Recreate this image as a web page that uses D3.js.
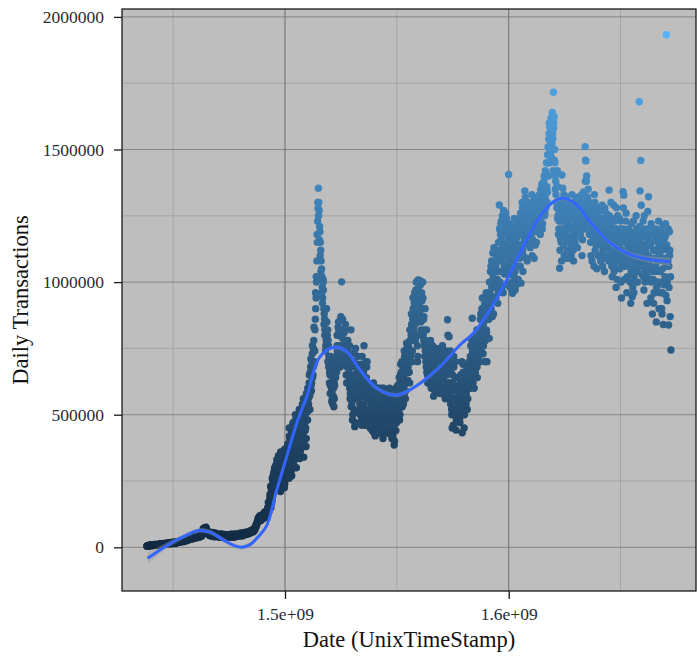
<!DOCTYPE html>
<html>
<head>
<meta charset="utf-8">
<script src="https://cdn.jsdelivr.net/npm/d3@7"></script>
<style>
  body { margin: 0; background: #ffffff; }
  svg text { font-family: "Liberation Serif", "Times New Roman", serif; }
</style>
</head>
<body>
<svg id="chart" width="697" height="658"></svg>
<script>
// Daily Ethereum transactions (thousands), read every 4 days from 2015-07-30
const startStamp = 1438214400;
const stepSeconds = 4 * 86400;
const dailyTxThousands = [
  4,6,5,8,7,9,6,8,10,7,9,11,8,
  10,8,12,9,11,13,10,12,9,14,11,13,12,
  13,15,12,16,14,17,13,18,15,16,19,14,17,
  18,21,19,23,20,25,22,24,21,27,23,26,28,
  27,31,29,34,30,33,36,32,38,35,37,40,36,
  39,42,38,44,41,47,43,62,70,66,74,68,71,
  58,52,47,55,44,50,42,53,46,40,49,44,51,
  45,41,48,38,46,43,50,40,47,44,39,46,42,
  44,40,47,42,38,45,41,49,43,39,46,42,48,
  45,50,43,48,52,46,44,51,47,55,49,53,50,
  54,58,52,60,56,63,59,66,62,70,75,82,90,
  95,110,104,118,100,113,122,108,126,115,130,121,112,
  128,140,135,160,185,220,175,250,205,290,240,310,265,
  300,230,325,275,210,315,260,340,290,225,355,300,270,
  320,380,260,410,350,290,440,375,310,470,400,345,490,
  420,360,480,335,455,510,390,470,340,530,440,380,560,
  480,560,620,520,680,590,730,650,780,700,860,940,1080,
  1230,1354,1270,1190,1120,1050,980,1010,900,860,820,780,850,
  820,760,700,650,720,600,560,640,530,610,680,720,760,
  800,850,700,760,870,1001,820,740,690,780,840,650,720,
  780,700,640,560,820,610,480,690,520,455,750,600,660,
  720,650,580,500,690,460,610,540,760,590,480,640,700,
  620,560,500,450,590,530,470,610,430,550,500,580,520,
  540,600,480,560,430,520,590,470,510,560,440,500,570,
  560,500,600,450,530,410,580,480,386,520,600,470,550,
  520,600,480,650,560,700,620,540,740,660,590,770,700,
  680,750,620,720,800,700,860,780,920,840,970,890,760,
  1008,950,880,990,820,930,1000,860,760,900,700,820,650,
  760,700,640,780,600,720,680,570,740,650,710,620,690,
  700,640,600,750,660,580,720,620,690,560,740,650,858,
  700,794,620,540,680,450,590,720,500,640,442,560,610,
  520,600,470,650,560,432,690,580,500,620,540,680,600,
  640,700,600,760,680,864,620,730,790,660,720,820,700,
  760,820,700,880,790,940,730,850,910,780,960,700,880,
  900,788,1000,950,1080,870,1020,1130,940,1060,990,1100,920,
  1150,1291,1000,1220,1080,1250,960,1180,1030,1260,1120,990,1200,
  1406,1100,980,1180,1050,958,1150,1020,1210,1090,990,1170,1060,
  1120,1240,1060,996,1180,1280,1100,1210,1344,1150,1250,1080,1200,
  1180,1290,1130,1240,1330,1160,1270,1090,1220,1310,1150,1260,1200,
  1250,1330,1180,1290,1370,1220,1310,1400,1260,1350,1450,1300,1510,
  1540,1586,1480,1620,1520,1560,1716,1624,1450,1380,1300,1420,1250,
  1200,1052,1310,1150,1404,1354,1230,1100,1280,1180,1320,1120,1250,
  1300,1150,1240,1100,1330,1200,1080,1270,1160,1310,1220,1130,1280,
  1250,1320,1180,1290,1100,1230,1340,1200,1511,1457,1400,1280,1350,
  1240,1300,1150,1210,1080,1270,1180,1330,1120,1220,1050,1260,1190,
  1150,1240,1080,1190,1290,1120,1210,1040,1170,1260,1100,1200,1130,
  1347,1180,1090,1240,1020,1150,1290,1060,1200,980,1130,1250,1100,
  1180,1050,1230,940,1120,1341,1328,1010,1170,1260,960,1090,1200,
  1130,1000,920,1220,945,1080,960,1160,1040,1250,1110,1000,1190,
  1680,1344,1459,1190,1080,1230,970,1140,1040,1170,920,1266,1322,
  1200,1060,940,1150,880,1010,1180,960,1090,850,1120,1000,1230,
  1100,960,1190,900,1050,840,1160,1000,1220,1933,930,1080,838,
  1190,870,744
];
// Readings taken two days after each of the above (thousands)
const offsetSeconds = 2 * 86400;
const dailyTxOffsetThousands = [
  5,7,4,6,9,8,7,10,9,8,11,9,10,
  9,11,10,13,12,10,14,11,13,12,15,13,14,
  15,13,17,14,16,18,15,17,19,16,18,20,16,
  20,19,22,21,24,22,26,23,25,28,24,27,25,
  29,33,28,32,35,31,34,37,33,39,36,38,41,
  40,37,43,40,45,42,48,56,66,72,64,76,63,
  55,60,49,45,53,48,56,43,51,47,54,41,48,
  47,43,39,49,44,41,47,37,45,42,48,40,45,
  41,46,39,44,49,40,43,47,38,44,50,41,45,
  47,42,49,45,54,48,43,50,46,52,57,48,52,
  56,51,57,62,55,61,65,58,68,64,72,78,86,
  102,98,114,107,120,104,116,110,124,133,118,127,140,
  150,132,170,200,150,230,195,270,215,300,255,285,320,
  240,310,285,220,335,250,300,270,345,240,320,285,375,
  360,300,420,335,395,270,460,330,420,365,480,300,430,
  380,500,440,360,520,410,470,560,400,500,450,580,510,
  520,600,570,660,610,700,640,750,690,820,900,1000,1150,
  1278,1300,1210,1150,1080,1020,940,970,880,820,760,900,800,
  780,720,660,610,690,580,540,600,560,650,700,660,740,
  830,760,800,720,860,790,700,760,810,700,780,620,750,
  740,660,600,700,530,650,500,580,730,470,640,560,690,
  680,600,540,650,480,720,570,500,630,460,560,680,610,
  580,520,470,540,610,440,560,490,590,420,520,470,600,
  500,560,450,530,600,480,410,550,490,580,460,520,430,
  520,460,580,430,510,560,440,500,400,570,490,530,610,
  560,640,500,690,590,530,670,610,720,560,680,750,630,
  720,660,780,700,840,740,900,820,960,880,1000,800,720,
  980,920,1005,850,960,900,800,870,720,780,680,750,620,
  720,660,740,610,690,760,640,720,590,680,750,610,700,
  660,720,580,690,620,760,640,700,600,680,720,610,800,
  660,560,740,600,500,650,460,610,560,700,480,520,580,
  560,480,620,540,700,500,590,450,640,560,600,520,660,
  600,680,720,640,780,660,700,600,760,690,740,640,780,
  720,800,860,740,900,820,760,880,700,940,810,860,920,
  860,960,1040,900,1000,1110,880,980,1060,940,1120,1010,960,
  1100,1040,1180,1230,980,1140,1270,1060,1200,1110,1240,1040,1160,
  1130,1220,1030,1120,1000,1190,1080,1240,970,1140,1060,1200,1010,
  1180,1090,1260,1140,1300,1040,1230,1160,1320,1090,1200,1280,1140,
  1240,1140,1300,1200,1100,1280,1210,1320,1140,1250,1190,1300,1230,
  1290,1210,1350,1260,1200,1320,1380,1250,1420,1300,1360,1480,1400,
  1600,1500,1560,1470,1640,1420,1600,1500,1350,1410,1280,1360,1180,
  1260,1120,1230,1080,1290,1180,1330,1150,1240,1090,1210,1300,1170,
  1230,1090,1280,1170,1250,1120,1300,1210,1140,1260,1180,1320,1200,
  1180,1280,1220,1330,1160,1260,1300,1240,1460,1380,1320,1230,1290,
  1180,1270,1100,1290,1150,1230,1060,1300,1200,1140,1280,1100,1240,
  1220,1100,1270,1160,1060,1230,1140,1280,1090,1200,1150,1240,1080,
  1250,1120,1300,1060,1200,1110,1040,1230,1150,1280,1010,1190,1080,
  1240,1120,1000,1190,1080,1280,1150,1060,1230,1110,1020,1180,1140,
  1080,1190,1040,1150,980,1230,1060,1130,1000,1200,1070,1160,1120,
  1210,1110,1290,1030,1180,1060,1250,1000,1200,1100,1020,1190,1080,
  1150,1010,1220,1090,1180,920,1120,1040,1200,980,1080,1160,900,
  1180,1040,1120,880,1210,990,1090,1170,950,1140,1060,1200,980,
  1120,1020
];
// From mid-2017 on: readings one day after the main series, starting at its 157th reading (thousands)
const laterStartIndex = 156;
const laterOffsetSeconds = 86400;
const dailyTxLaterThousands = [
  140,170,150,190,230,165,260,210,280,235,300,250,330,
  270,345,240,300,360,255,330,280,310,370,260,340,300,
  390,330,450,380,300,430,350,470,390,330,500,420,370,
  460,400,520,440,370,490,540,420,500,470,560,410,540,
  600,540,650,580,710,620,760,680,830,740,960,1020,1180,
  1300,1250,1160,1100,1040,960,920,1000,840,800,740,820,780,
  700,680,620,580,660,550,600,570,620,700,640,700,800,
  760,820,740,680,800,720,860,760,700,820,760,700,680,
  700,620,760,580,680,540,630,700,560,510,620,680,580,
  640,560,620,520,600,680,500,660,580,520,700,560,620,
  560,480,600,520,460,580,510,620,480,540,450,560,490,
  470,540,510,580,460,550,500,600,450,530,480,540,500,
  480,540,430,560,470,500,420,550,460,510,440,580,500,
  600,520,620,560,660,590,700,640,580,700,620,720,660,
  760,700,820,740,880,800,940,860,900,780,940,860,700,
  940,880,960,800,900,860,940,780,820,740,720,660,720,
  680,740,620,700,660,620,720,660,700,640,680,740,640,
  620,680,720,640,700,620,660,740,580,700,620,680,720,
  620,700,580,660,520,620,560,680,520,600,500,640,540,
  600,560,640,520,600,560,660,520,580,640,580,620,560,
  680,620,660,700,620,740,660,720,680,700,760,680,740,
  800,740,820,860,780,900,840,800,920,860,820,900,960,
  940,1000,920,1060,980,1040,940,1080,1000,1060,980,1040,1100,
  1080,1200,1120,1160,1040,1200,1100,1220,1140,1180,1060,1220,1120,
  1080,1160,1100,1200,1060,1140,1120,1180,1040,1160,1100,1220,1140,
  1200,1140,1220,1180,1260,1120,1200,1240,1160,1280,1180,1240,1300,
  1200,1260,1220,1180,1280,1240,1200,1300,1260,1220,1280,1240,1290,
  1270,1300,1240,1320,1280,1340,1300,1360,1320,1280,1400,1340,1450,
  1560,1450,1520,1600,1500,1540,1580,1460,1400,1330,1360,1240,1300,
  1230,1300,1160,1260,1200,1280,1140,1240,1200,1300,1160,1260,1220,
  1260,1200,1300,1140,1240,1280,1180,1240,1300,1200,1260,1180,1240,
  1220,1260,1300,1200,1280,1240,1220,1300,1380,1300,1260,1320,1240,
  1220,1180,1260,1200,1240,1160,1260,1220,1180,1250,1160,1220,1200,
  1180,1200,1140,1240,1180,1150,1220,1160,1240,1140,1200,1180,1160,
  1200,1160,1220,1120,1180,1080,1160,1200,1100,1200,1080,1160,1140,
  1140,1200,1080,1160,1060,1200,1100,1180,1080,1160,1100,1140,1060,
  1160,1060,1120,1000,1180,1100,1020,1160,1080,1140,1040,1180,1100,
  1160,1060,1200,1100,1140,1020,1180,1080,1120,1060,1160,1100,1140,
  1080,1140,1000,1180,1040,1120,960,1160,1060,1120,1000,1080,1140,
  1040,1160,1000,1120,960,1080,1140,1020,1180,1060,1000,1120,1060,
  1100
];

// Fitted smooth trend: timestamps (millions of seconds), fit and standard-error half width (thousands)
const smoothStampM = [1438.62,1444.12,1450.07,1456.06,1461.24,1466.47,1472.42,1476.89,1480.64,1484.35,
  1488.06,1491.82,1496.29,1500.76,1505.23,1509.70,1515.65,1522.35,1527.58,1533.53,1540.99,1549.93,
  1560.35,1569.29,1578.23,1584.18,1591.64,1599.82,1608.05,1613.99,1619.94,1624.41,1630.40,1636.35,
  1643.81,1652.75,1661.69,1672.11];
const smoothFitK = [-41.5,-10,21,46,63,57,28,8,0,10,
  40,82,216,342,468,568,719,754,738,669,600,574,
  618,681,763,807,895,1020,1159,1247,1303,1316,1291,1228,
  1159,1109,1087,1077];
const smoothSeK = [22,14,10,9,9,9,9,9,9,9,
  9,9,9,9,8,8,8,8,8,8,8,8,
  8,8,8,8,8,8,8,8,8,8,8,8,
  9,10,12,16];

// Axis ticks and grid
const xTicks = [1.5e9, 1.6e9];
const xTickLabels = ["1.5e+09", "1.6e+09"];
const xMinor = [1.45e9, 1.55e9, 1.65e9];
const yTicks = [0, 500000, 1000000, 1500000, 2000000];
const yTickLabels = ["0", "500000", "1000000", "1500000", "2000000"];
const yMinor = [250000, 750000, 1250000, 1750000];

const points = [];
dailyTxThousands.forEach((v, i) => points.push({ t: startStamp + i * stepSeconds, v: v * 1000 }));
dailyTxOffsetThousands.forEach((v, i) => points.push({ t: startStamp + offsetSeconds + i * stepSeconds, v: v * 1000 }));
dailyTxLaterThousands.forEach((v, i) => points.push({
  t: startStamp + laterOffsetSeconds + (laterStartIndex + i) * stepSeconds, v: v * 1000 }));
points.sort((a, b) => a.t - b.t);
const smooth = smoothStampM.map((t, i) => ({ t: t * 1e6, v: smoothFitK[i] * 1000, se: smoothSeK[i] * 1000 }));

const panel = { left: 122, right: 696, top: 9, bottom: 591 };
const svg = d3.select("#chart");

const x = d3.scaleLinear().domain([1.427135e9, 1.68373e9]).range([panel.left, panel.right]);
const y = d3.scaleLinear().domain([-164790, 2029870]).range([panel.bottom, panel.top]);

const color = d3.scaleLinear()
  .domain(d3.extent(points, d => d.v))
  .range(["#132B43", "#56B1F7"])
  .interpolate(d3.interpolateLab);

// panel background
svg.append("rect")
  .attr("x", panel.left).attr("y", panel.top)
  .attr("width", panel.right - panel.left).attr("height", panel.bottom - panel.top)
  .attr("fill", "#bebebe");

const grid = svg.append("g");
grid.selectAll("line.ymin").data(yMinor).join("line")
  .attr("x1", panel.left).attr("x2", panel.right)
  .attr("y1", d => y(d)).attr("y2", d => y(d))
  .attr("stroke", "#a4a4a4").attr("stroke-width", 1);
grid.selectAll("line.xmin").data(xMinor).join("line")
  .attr("y1", panel.top).attr("y2", panel.bottom)
  .attr("x1", d => x(d)).attr("x2", d => x(d))
  .attr("stroke", "#a4a4a4").attr("stroke-width", 1);
grid.selectAll("line.ymaj").data(yTicks).join("line")
  .attr("x1", panel.left).attr("x2", panel.right)
  .attr("y1", d => y(d)).attr("y2", d => y(d))
  .attr("stroke", "#858585").attr("stroke-width", 1);
grid.selectAll("line.xmaj").data(xTicks).join("line")
  .attr("y1", panel.top).attr("y2", panel.bottom)
  .attr("x1", d => x(d)).attr("x2", d => x(d))
  .attr("stroke", "#6e6e6e").attr("stroke-width", 1);

// scatter
svg.append("g").selectAll("circle").data(points).join("circle")
  .attr("cx", d => x(d.t)).attr("cy", d => y(d.v))
  .attr("r", 3.7)
  .attr("fill", d => color(d.v));

// smooth with confidence band
const band = d3.area().curve(d3.curveCatmullRom)
  .x(d => x(d.t)).y0(d => y(d.v - d.se)).y1(d => y(d.v + d.se));
svg.append("path").datum(smooth).attr("d", band)
  .attr("fill", "#999999").attr("fill-opacity", 0.4);
const line = d3.line().curve(d3.curveCatmullRom).x(d => x(d.t)).y(d => y(d.v));
svg.append("path").datum(smooth).attr("d", line)
  .attr("fill", "none").attr("stroke", "#3366FF").attr("stroke-width", 3);

// panel border
svg.append("rect")
  .attr("x", panel.left).attr("y", panel.top)
  .attr("width", panel.right - panel.left).attr("height", panel.bottom - panel.top)
  .attr("fill", "none").attr("stroke", "#1a1a1a").attr("stroke-width", 1.3);

// axes
const xAxis = d3.axisBottom(x).tickValues(xTicks)
  .tickFormat((d, i) => xTickLabels[i]).tickSize(8).tickPadding(9);
const gx = svg.append("g").attr("transform", `translate(0,${panel.bottom})`).call(xAxis);
const yAxis = d3.axisLeft(y).tickValues(yTicks)
  .tickFormat((d, i) => yTickLabels[i]).tickSize(8).tickPadding(10);
const gy = svg.append("g").attr("transform", `translate(${panel.left},0)`).call(yAxis);
[gx, gy].forEach(g => {
  g.select(".domain").remove();
  g.selectAll(".tick line").attr("stroke", "#1a1a1a").attr("stroke-width", 1.3);
  g.selectAll(".tick text")
    .attr("fill", "#2b2b2b")
    .style("font-size", "17.5px")
    .style("font-family", "'Liberation Serif', 'Times New Roman', serif");
});

// axis titles
svg.append("text")
  .attr("x", (panel.left + panel.right) / 2).attr("y", 647)
  .attr("text-anchor", "middle").attr("fill", "#111")
  .style("font-size", "22.5px")
  .text("Date (UnixTimeStamp)");
svg.append("text")
  .attr("transform", `translate(28,${(panel.top + panel.bottom) / 2}) rotate(-90)`)
  .attr("text-anchor", "middle").attr("fill", "#111")
  .style("font-size", "22.5px")
  .text("Daily Transactions");
</script>
</body>
</html>
